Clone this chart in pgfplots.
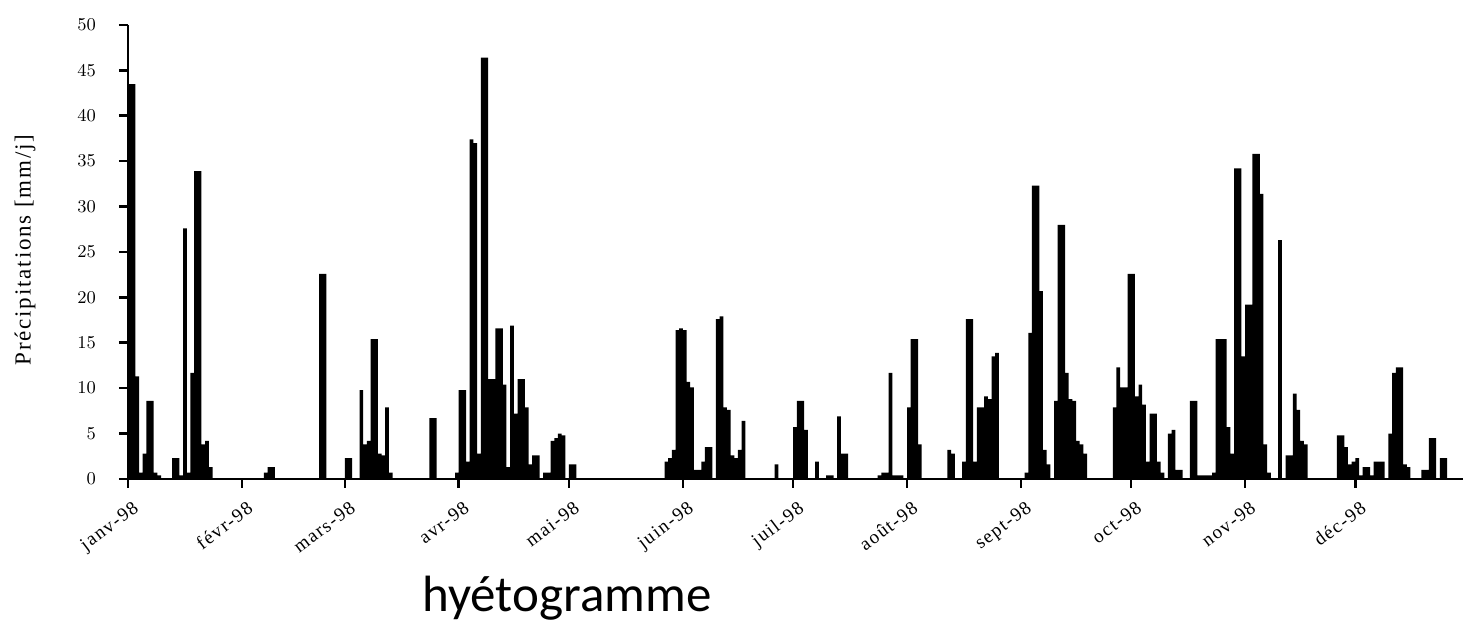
\documentclass[border=0pt]{standalone}
\usepackage{fontspec}
\setmainfont{Liberation Serif}
\newfontfamily\pixfont[LetterSpace=8]{Liberation Serif}
\newfontfamily\titlefont{Carlito}
\usepackage{pgfplots}
\usepackage{pgfplotstable}
\pgfplotsset{compat=1.18}

% daily rainfall 1998, d = day of year (0 = 1 Jan), p = mm/day; days not listed are 0
\pgfplotstableread{
d p
0 43.5
1 43.5
2 11.3
3 0.7
4 2.8
5 8.6
6 8.6
7 0.7
8 0.4
12 2.3
13 2.3
14 0.4
15 27.6
16 0.7
17 11.7
18 33.9
19 33.9
20 3.8
21 4.2
22 1.3
37 0.7
38 1.3
39 1.3
52 22.6
53 22.6
59 2.3
60 2.3
63 9.8
64 3.8
65 4.2
66 15.4
67 15.4
68 2.8
69 2.6
70 7.9
71 0.7
82 6.7
83 6.7
89 0.7
90 9.8
91 9.8
92 1.9
93 37.4
94 37.0
95 2.8
96 46.4
97 46.4
98 11.0
99 11.0
100 16.6
101 16.6
102 10.4
103 1.3
104 16.9
105 7.2
106 11.0
107 11.0
108 7.9
109 1.6
110 2.6
111 2.6
113 0.7
114 0.7
115 4.2
116 4.5
117 5.0
118 4.8
120 1.6
121 1.6
146 1.9
147 2.3
148 3.2
149 16.4
150 16.6
151 16.4
152 10.7
153 10.1
154 1.0
155 1.0
156 1.9
157 3.5
158 3.5
160 17.6
161 17.9
162 7.9
163 7.6
164 2.6
165 2.3
166 3.2
167 6.4
176 1.6
181 5.7
182 8.6
183 8.6
184 5.4
187 1.9
190 0.4
191 0.4
193 6.9
194 2.8
195 2.8
204 0.4
205 0.7
206 0.7
207 11.7
208 0.4
209 0.4
210 0.4
212 7.9
213 15.4
214 15.4
215 3.8
223 3.2
224 2.8
227 1.9
228 17.6
229 17.6
230 1.9
231 7.9
232 7.9
233 9.1
234 8.8
235 13.5
236 13.9
244 0.7
245 16.1
246 32.3
247 32.3
248 20.7
249 3.2
250 1.6
252 8.6
253 28.0
254 28.0
255 11.7
256 8.8
257 8.6
258 4.2
259 3.8
260 2.8
268 7.9
269 12.3
270 10.1
271 10.1
272 22.6
273 22.6
274 9.1
275 10.4
276 8.2
277 1.9
278 7.2
279 7.2
280 1.9
281 0.7
283 5.0
284 5.4
285 1.0
286 1.0
289 8.6
290 8.6
291 0.4
292 0.4
293 0.4
294 0.4
295 0.7
296 15.4
297 15.4
298 15.4
299 5.7
300 2.8
301 34.2
302 34.2
303 13.5
304 19.2
305 19.2
306 35.8
307 35.8
308 31.4
309 3.8
310 0.7
313 26.3
315 2.6
316 2.6
317 9.4
318 7.6
319 4.2
320 3.8
329 4.8
330 4.8
331 3.5
332 1.6
333 1.9
334 2.3
335 0.4
336 1.3
337 1.3
338 0.4
339 1.9
340 1.9
341 1.9
343 5.0
344 11.7
345 12.3
346 12.3
347 1.6
348 1.3
352 1.0
353 1.0
354 4.5
355 4.5
357 2.3
358 2.3
}\rain

\begin{document}
\begin{tikzpicture}
\useasboundingbox (0,0) rectangle (731.5pt,320pt);
\begin{axis}[
    at={(64pt,80.5pt)}, anchor=south west,
    scale only axis,
    width=667.5pt, height=227pt,
    xmin=0, xmax=363.3,
    ymin=0, ymax=50,
    axis lines*=left,
    axis line style={black, line width=1.3pt},
    tick align=outside,
    major tick length=4.5pt,
    tick style={black, line width=1.3pt},
    ytick={0,5,...,50},
    xtick={0,31,59,90,120,151,181,212,243,273,304,334},
    xticklabels={janv-98,févr-98,mars-98,avr-98,mai-98,juin-98,juil-98,août-98,sept-98,oct-98,nov-98,déc-98},
    xticklabel style={font=\pixfont\fontsize{9.5pt}{11pt}\selectfont, rotate=37, anchor=north east, inner sep=0pt, yshift=-6pt, xshift=-2pt},
    yticklabel style={font=\pixfont\fontsize{9pt}{10pt}\selectfont, anchor=east, xshift=-8pt},
    clip=false,
]
\addplot[ybar, bar width=1, fill=black, draw=none]
    table[x expr=\thisrow{d}+0.5, y=p] {\rain};
\end{axis}
\node[font=\pixfont\fontsize{11.5pt}{13pt}\selectfont, rotate=90] at (12.5pt,195pt) {Précipitations [mm/j]};
\node[font=\titlefont\fontsize{25.5pt}{30pt}\selectfont, anchor=base] at (283.5pt,14pt) {hyétogramme};
\end{tikzpicture}
\end{document}
